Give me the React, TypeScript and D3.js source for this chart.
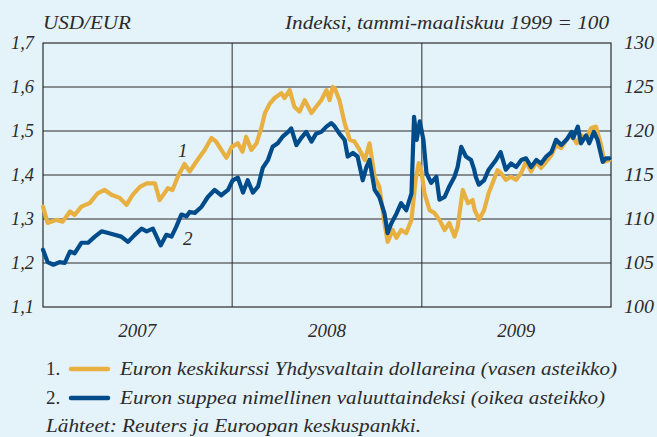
import React from "react";
import * as d3 from "d3";

const W = 657;
const H = 437;

const leftTicks = [1.1, 1.2, 1.3, 1.4, 1.5, 1.6, 1.7];
const rightTicks = [100, 105, 110, 115, 120, 125, 130];
const years = ["2007", "2008", "2009"];

const usdEur: [string, number][] = [
  ["2007-01-01", 1.328], ["2007-01-10", 1.291], ["2007-01-27", 1.298], ["2007-02-08", 1.294],
  ["2007-02-22", 1.317], ["2007-03-03", 1.309], ["2007-03-16", 1.328], ["2007-04-01", 1.336],
  ["2007-04-17", 1.359], ["2007-04-30", 1.366], ["2007-05-13", 1.355], ["2007-05-29", 1.348],
  ["2007-06-11", 1.332], ["2007-06-23", 1.355], ["2007-07-07", 1.373], ["2007-07-20", 1.381],
  ["2007-08-05", 1.381], ["2007-08-14", 1.343], ["2007-08-30", 1.370], ["2007-09-08", 1.366],
  ["2007-09-18", 1.396], ["2007-10-01", 1.425], ["2007-10-11", 1.408], ["2007-10-26", 1.434],
  ["2007-11-09", 1.457], ["2007-11-22", 1.484], ["2007-12-01", 1.476], ["2007-12-11", 1.457],
  ["2007-12-21", 1.439], ["2007-12-31", 1.464], ["2008-01-12", 1.472], ["2008-01-21", 1.453],
  ["2008-01-28", 1.487], ["2008-02-07", 1.457], ["2008-02-17", 1.472], ["2008-02-27", 1.510],
  ["2008-03-04", 1.540], ["2008-03-14", 1.563], ["2008-03-23", 1.575], ["2008-04-05", 1.586],
  ["2008-04-11", 1.575], ["2008-04-21", 1.593], ["2008-04-30", 1.555], ["2008-05-10", 1.544],
  ["2008-05-20", 1.570], ["2008-06-02", 1.541], ["2008-06-11", 1.555], ["2008-06-21", 1.570],
  ["2008-07-01", 1.593], ["2008-07-07", 1.570], ["2008-07-13", 1.600], ["2008-07-17", 1.597],
  ["2008-07-26", 1.570], ["2008-08-05", 1.518], ["2008-08-15", 1.480], ["2008-08-24", 1.476],
  ["2008-09-03", 1.457], ["2008-09-13", 1.434], ["2008-09-22", 1.472], ["2008-10-02", 1.396],
  ["2008-10-11", 1.373], ["2008-10-21", 1.291], ["2008-10-27", 1.248], ["2008-11-06", 1.275],
  ["2008-11-13", 1.257], ["2008-11-22", 1.275], ["2008-12-02", 1.268], ["2008-12-12", 1.298],
  ["2008-12-20", 1.389], ["2008-12-26", 1.427], ["2008-12-31", 1.411], ["2009-01-06", 1.359],
  ["2009-01-16", 1.320], ["2009-01-25", 1.314], ["2009-02-04", 1.298], ["2009-02-14", 1.275],
  ["2009-02-23", 1.291], ["2009-03-05", 1.260], ["2009-03-11", 1.282], ["2009-03-21", 1.366],
  ["2009-03-31", 1.336], ["2009-04-09", 1.343], ["2009-04-13", 1.320], ["2009-04-19", 1.305],
  ["2009-04-21", 1.298], ["2009-05-01", 1.320], ["2009-05-10", 1.359], ["2009-05-20", 1.389],
  ["2009-05-27", 1.411], ["2009-06-02", 1.405], ["2009-06-12", 1.389], ["2009-06-22", 1.396],
  ["2009-07-02", 1.389], ["2009-07-12", 1.405], ["2009-07-21", 1.430], ["2009-07-31", 1.408],
  ["2009-08-10", 1.430], ["2009-08-19", 1.416], ["2009-08-29", 1.430], ["2009-09-08", 1.445],
  ["2009-09-17", 1.468], ["2009-09-27", 1.461], ["2009-10-07", 1.480], ["2009-10-17", 1.491],
  ["2009-10-27", 1.472], ["2009-11-04", 1.491], ["2009-11-14", 1.484], ["2009-11-24", 1.507],
  ["2009-12-03", 1.510], ["2009-12-13", 1.468], ["2009-12-19", 1.430], ["2009-12-29", 1.434],
];

const euroIndex: [string, number][] = [
  ["2007-01-01", 106.5], ["2007-01-10", 105.1], ["2007-01-21", 104.8], ["2007-02-02", 105.1],
  ["2007-02-12", 105.0], ["2007-02-22", 106.3], ["2007-03-03", 106.1], ["2007-03-16", 107.3],
  ["2007-03-29", 107.3], ["2007-04-11", 108.0], ["2007-04-24", 108.6], ["2007-05-07", 108.4],
  ["2007-05-19", 108.2], ["2007-06-01", 108.0], ["2007-06-14", 107.4], ["2007-06-27", 108.2],
  ["2007-07-10", 108.9], ["2007-07-20", 108.6], ["2007-08-01", 108.9], ["2007-08-16", 107.0],
  ["2007-08-27", 108.2], ["2007-09-06", 108.0], ["2007-09-15", 109.1], ["2007-09-25", 110.5],
  ["2007-10-05", 110.3], ["2007-10-11", 110.8], ["2007-10-21", 110.7], ["2007-11-03", 111.4],
  ["2007-11-15", 112.5], ["2007-11-28", 113.3], ["2007-12-11", 112.7], ["2007-12-24", 113.3],
  ["2008-01-02", 114.4], ["2008-01-12", 114.7], ["2008-01-22", 113.0], ["2008-01-31", 114.4],
  ["2008-02-10", 113.0], ["2008-02-20", 113.7], ["2008-02-29", 115.8], ["2008-03-10", 116.7],
  ["2008-03-19", 118.2], ["2008-03-29", 118.6], ["2008-04-08", 119.4], ["2008-04-18", 119.9],
  ["2008-04-24", 120.3], ["2008-05-04", 118.4], ["2008-05-13", 119.2], ["2008-05-23", 119.9],
  ["2008-06-02", 118.8], ["2008-06-11", 119.7], ["2008-06-21", 119.9], ["2008-07-01", 120.5],
  ["2008-07-10", 120.9], ["2008-07-17", 120.5], ["2008-07-26", 119.7], ["2008-08-05", 119.0],
  ["2008-08-11", 117.1], ["2008-08-21", 117.5], ["2008-08-30", 117.1], ["2008-09-09", 114.4],
  ["2008-09-16", 115.9], ["2008-09-22", 116.7], ["2008-10-02", 113.3], ["2008-10-11", 112.5],
  ["2008-10-21", 110.6], ["2008-10-27", 108.4], ["2008-11-03", 109.5], ["2008-11-13", 110.6],
  ["2008-11-22", 111.8], ["2008-12-02", 111.0], ["2008-12-12", 112.9], ["2008-12-17", 121.6],
  ["2008-12-22", 119.0], ["2008-12-28", 121.1], ["2009-01-04", 119.0], ["2009-01-10", 115.2],
  ["2009-01-19", 114.1], ["2009-01-29", 114.8], ["2009-02-04", 112.2], ["2009-02-14", 112.5],
  ["2009-02-23", 113.7], ["2009-03-05", 114.8], ["2009-03-11", 115.9], ["2009-03-18", 118.2],
  ["2009-03-27", 117.1], ["2009-04-06", 116.7], ["2009-04-12", 115.6], ["2009-04-15", 114.8],
  ["2009-04-21", 113.9], ["2009-05-01", 114.4], ["2009-05-10", 115.6], ["2009-05-24", 116.7],
  ["2009-06-02", 117.6], ["2009-06-12", 115.6], ["2009-06-22", 116.3], ["2009-07-02", 115.9],
  ["2009-07-12", 116.7], ["2009-07-21", 116.9], ["2009-07-31", 115.9], ["2009-08-10", 116.7],
  ["2009-08-19", 116.3], ["2009-08-29", 117.1], ["2009-09-08", 117.6], ["2009-09-17", 119.0],
  ["2009-09-27", 118.4], ["2009-10-07", 119.0], ["2009-10-17", 119.9], ["2009-10-20", 119.2],
  ["2009-10-29", 120.5], ["2009-11-04", 118.6], ["2009-11-14", 119.5], ["2009-11-20", 118.6],
  ["2009-11-29", 119.9], ["2009-12-06", 119.0], ["2009-12-16", 116.5], ["2009-12-22", 116.9],
  ["2009-12-29", 116.9],
];

const leftTitle = "USD/EUR";
const rightTitle = "Indeksi, tammi-maaliskuu 1999 = 100";
const legendItems = [
  "Euron keskikurssi Yhdysvaltain dollareina (vasen asteikko)",
  "Euron suppea nimellinen valuuttaindeksi (oikea asteikko)",
];
const sourceText = "Lähteet: Reuters ja Euroopan keskuspankki.";

const BG = "#e4f2fa";
const YELLOW = "#e8b040";
const BLUE = "#004b8a";
const INK = "#2b2b2b";
const FONT = "'Liberation Serif', 'DejaVu Serif', serif";

export default function App() {
  const parse = d3.timeParse("%Y-%m-%d");
  const m = { left: 43, right: 611, top: 43, bottom: 307 };
  const x = d3
    .scaleTime()
    .domain([new Date(2007, 0, 1), new Date(2010, 0, 1)])
    .range([m.left, m.right]);
  const yL = d3.scaleLinear().domain([1.1, 1.7]).range([m.bottom, m.top]);
  const yR = d3.scaleLinear().domain([100, 130]).range([m.bottom, m.top]);

  const lineL = d3
    .line<[string, number]>()
    .x((d) => x(parse(d[0]) as Date))
    .y((d) => yL(d[1]));
  const lineR = d3
    .line<[string, number]>()
    .x((d) => x(parse(d[0]) as Date))
    .y((d) => yR(d[1]));

  const fmt = (v: number) => d3.format(".1f")(v).replace(".", ",");
  const yearStarts = years.map((y) => new Date(+y, 0, 1));
  const ital = { fontStyle: "italic" as const, fill: INK };

  return (
    <div style={{ position: "fixed", left: 0, top: 0, width: W, height: H }}>
      <svg width={W} height={H} style={{ display: "block", background: BG }} fontFamily={FONT}>
        <rect x={0} y={0} width={W} height={H} fill={BG} />
        {leftTicks.slice(1, -1).map((t) => (
          <line key={t} x1={m.left} x2={m.right} y1={yL(t)} y2={yL(t)} stroke={INK} strokeWidth={1} />
        ))}
        {yearStarts.slice(1).map((d, i) => (
          <line key={i} x1={x(d)} x2={x(d)} y1={m.top} y2={m.bottom} stroke={INK} strokeWidth={1} />
        ))}
        <rect x={m.left} y={m.top} width={m.right - m.left} height={m.bottom - m.top} fill="none" stroke={INK} strokeWidth={1.2} />
        <path d={lineL(usdEur) || ""} fill="none" stroke={YELLOW} strokeWidth={4.2} strokeLinejoin="round" strokeLinecap="round" />
        <path d={lineR(euroIndex) || ""} fill="none" stroke={BLUE} strokeWidth={4.2} strokeLinejoin="round" strokeLinecap="round" />
        {leftTicks.map((t) => (
          <text key={t} x={34} y={yL(t) + 6} textAnchor="end" fontSize={19} textLength={23} lengthAdjust="spacingAndGlyphs" {...ital}>
            {fmt(t)}
          </text>
        ))}
        {rightTicks.map((t) => (
          <text key={t} x={624} y={yR(t) + 6} textAnchor="start" fontSize={19} textLength={30} lengthAdjust="spacingAndGlyphs" {...ital}>
            {t}
          </text>
        ))}
        {years.map((yv) => {
          const mid = new Date(+yv, 6, 2);
          return (
            <text key={yv} x={x(mid)} y={337} textAnchor="middle" fontSize={18} textLength={38} lengthAdjust="spacingAndGlyphs" {...ital}>
              {yv}
            </text>
          );
        })}
        <text x={m.left} y={29} fontSize={19} textLength={88} lengthAdjust="spacingAndGlyphs" {...ital}>{leftTitle}</text>
        <text x={285} y={29} fontSize={19} textLength={324} lengthAdjust="spacingAndGlyphs" {...ital}>{rightTitle}</text>
        <text x={178} y={157} fontSize={19} {...ital}>1</text>
        <text x={183} y={245} fontSize={19} {...ital}>2</text>
        {legendItems.map((t, i) => (
          <g key={i} transform={`translate(0, ${375 + i * 29})`}>
            <text x={46} y={0} fontSize={19} {...ital} fontStyle="normal">{`${i + 1}.`}</text>
            <line x1={71} x2={108} y1={-6} y2={-6} stroke={i === 0 ? YELLOW : BLUE} strokeWidth={4.5} strokeLinecap="round" />
            <text x={120} y={0} fontSize={19} textLength={i === 0 ? 497 : 485} lengthAdjust="spacingAndGlyphs" {...ital}>{t}</text>
          </g>
        ))}
        <text x={46} y={432} fontSize={19} textLength={375} lengthAdjust="spacingAndGlyphs" {...ital}>{sourceText}</text>
      </svg>
    </div>
  );
}
